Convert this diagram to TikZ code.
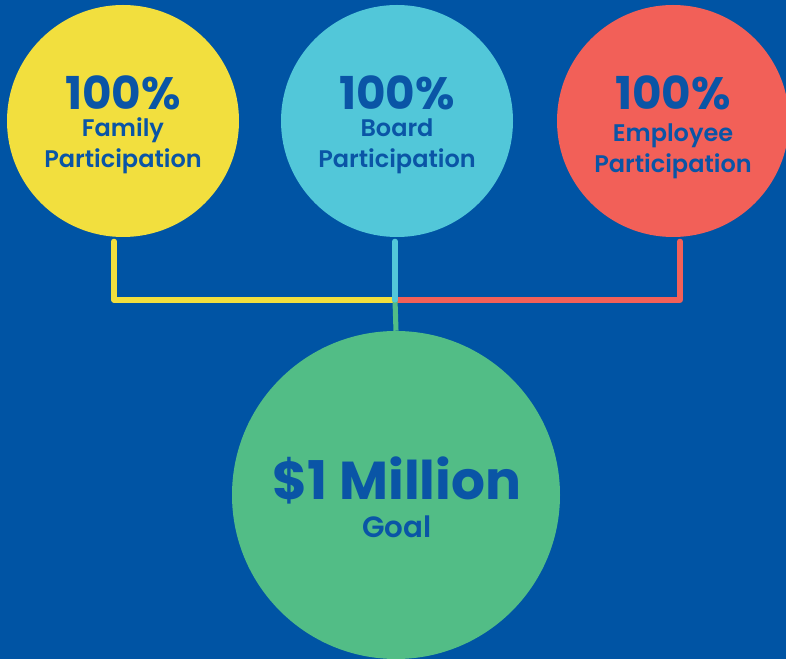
\documentclass[tikz,border=0pt]{standalone}
\usepackage{fontspec}
\setmainfont{Poppins}[BoldFont={Poppins Bold}]
\newfontfamily\semifont{Poppins SemiBold}
\usepackage{tikz}

\definecolor{bgblue}{HTML}{0054A4}
\definecolor{txtblue}{HTML}{0A55A6}
\definecolor{famyellow}{HTML}{F2DF3E}
\definecolor{brdcyan}{HTML}{52C7D9}
\definecolor{empred}{HTML}{F26058}
\definecolor{goalgreen}{HTML}{52BD86}

\tikzset{
  bubble/.style={circle, inner sep=0pt, minimum size=174pt},
  pct/.style={anchor=base, text=txtblue, inner sep=0pt, text depth=0pt, font=\fontsize{34}{36}\bfseries},
  sub/.style={anchor=base, text=txtblue, inner sep=0pt, text height=12pt, text depth=3pt, font=\fontsize{18}{20}\semifont},
  link/.style={line width=3.8pt, line cap=round, line join=round}
}

\begin{document}
\begin{tikzpicture}[x=0.75pt, y=-0.75pt]
			\useasboundingbox (0,0) rectangle (786,659);
			\fill[bgblue] (0,0) rectangle (786,659);

			% the three participation circles
			\node[bubble, fill=famyellow] (fam) at (123,121) {};
			\node[bubble, fill=brdcyan] (brd) at (397,121) {};
			\node[bubble, fill=empred] (emp) at (673,121) {};
			\node[bubble, fill=goalgreen, minimum size=246pt] (goal) at (396,495) {};

			\node[pct] (famp) at (123,110) {100\%};
			\node[sub] (famt) at (123,137) {Family};
			\node[sub] (fams) at (123,168) {Participation};

			\node[pct] (brdp) at (397,110) {100\%};
			\node[sub] (brdt) at (397,137) {Board};
			\node[sub] (brds) at (397,168) {Participation};

			\node[pct] (empp) at (673,110) {100\%};
			\node[sub] (empt) at (673,142) {Employee};
			\node[sub] (emps) at (673,173) {Participation};

			\node[pct, font=\fontsize{40}{44}\bfseries] (goalp) at (397,499) {\$1 Million};
			\node[sub, text height=16pt, font=\fontsize{22}{26}\semifont] (goalt) at (397,537) {Goal};

			% connectors meet at one point above the goal
			\coordinate (jn) at (395,300);
			\draw[link, famyellow] ([xshift=-6.75pt, yshift=-3pt]fam.south) |- (jn);
			\draw[link, empred] ([xshift=5.25pt, yshift=-3pt]emp.south) |- (jn);
			\draw[link, goalgreen, line cap=butt] (jn) -- (goal.north);
			\draw[link, brdcyan] ([xshift=-1.5pt, yshift=-3pt]brd.south) -- (jn);
		\end{tikzpicture}
\end{document}
